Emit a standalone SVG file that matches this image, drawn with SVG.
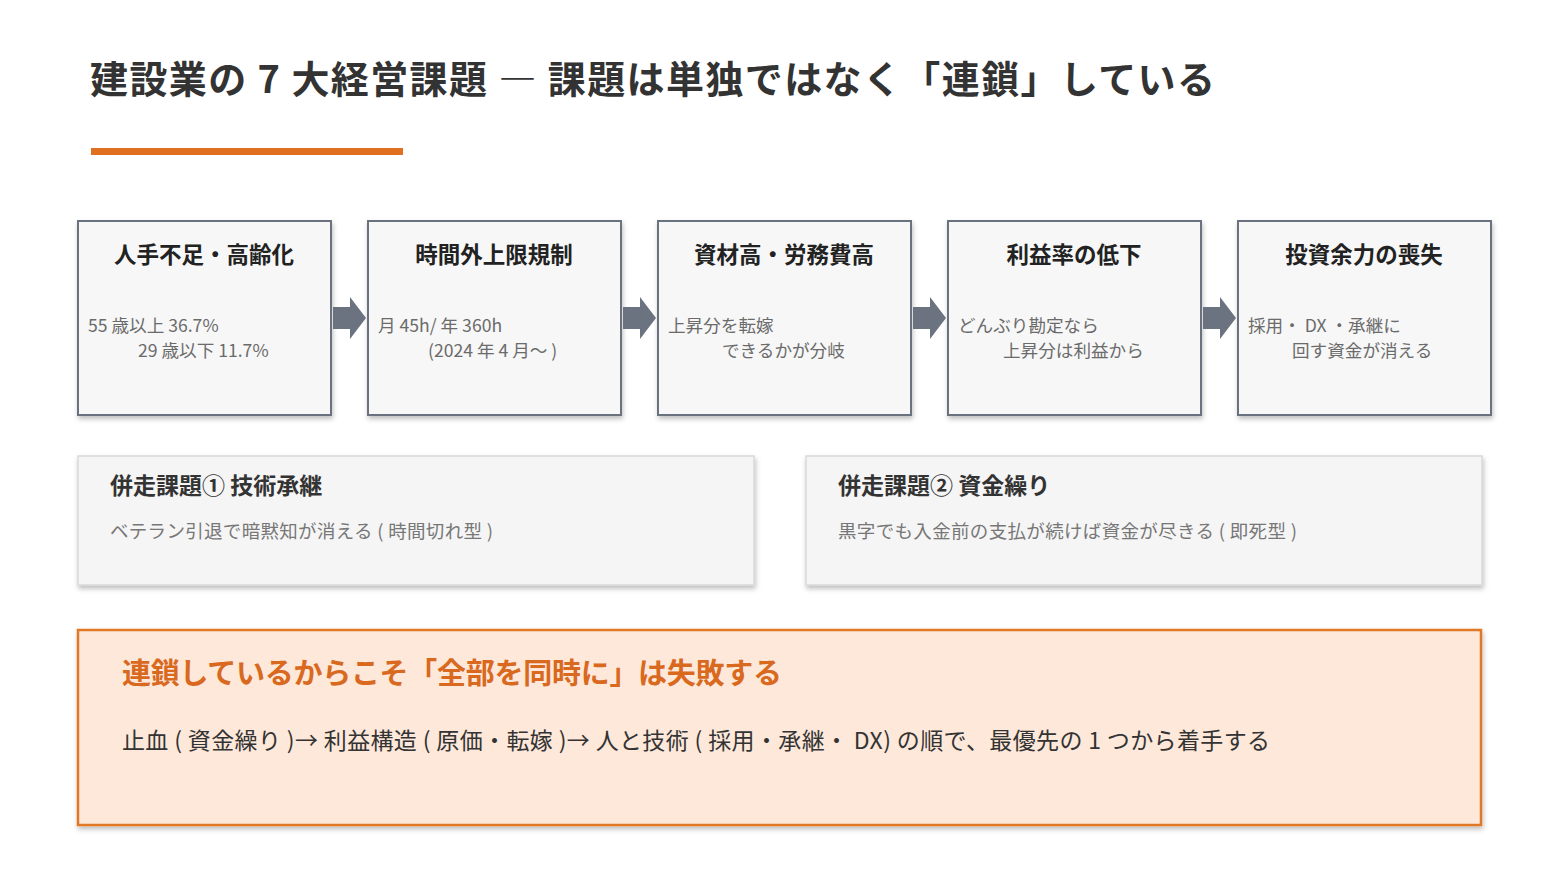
<svg xmlns="http://www.w3.org/2000/svg" width="1560" height="878" viewBox="0 0 1560 878">
<defs>
<filter id="sh" x="-5%" y="-5%" width="110%" height="115%"><feDropShadow dx="1" dy="3" stdDeviation="2.5" flood-color="#000" flood-opacity="0.25"/></filter>
<style>
text{font-family:"Noto Sans CJK JP","Noto Sans",sans-serif}
.box{fill:#f7f7f7;stroke:#6b7280;stroke-width:2;filter:url(#sh)}
.sbox{fill:#f5f5f5;stroke:#d8d8d8;stroke-width:1.5;filter:url(#sh)}
.h{font-size:22.5px;font-weight:700;fill:#222;text-anchor:middle}
.b{font-size:17.6px;fill:#6b6b6b}
.sh{font-size:23px;font-weight:700;fill:#333}
.sb{font-size:18.5px;fill:#777}
.arr{fill:#6b7280}
</style>
</defs>
<rect width="1560" height="878" fill="#fff"/>
<text x="90" y="93" font-size="38" font-weight="700" fill="#333" textLength="1125" lengthAdjust="spacing">建設業の 7 大経営課題 ― 課題は単独ではなく「連鎖」している</text>
<rect x="91" y="148" width="312" height="7" fill="#e07020"/>
<g id="n1"><rect class="box" x="78" y="221" width="253" height="194"/><text class="h" x="204" y="263">人手不足・高齢化</text><text class="b" x="88" y="332">55 歳以上 36.7%</text><text class="b" x="138" y="357">29 歳以下 11.7%</text></g>
<g id="n2"><rect class="box" x="368" y="221" width="253" height="194"/><text class="h" x="494" y="263">時間外上限規制</text><text class="b" x="378" y="332">月 45h/ 年 360h</text><text class="b" x="428" y="357">(2024 年 4 月～ )</text></g>
<g id="n3"><rect class="box" x="658" y="221" width="253" height="194"/><text class="h" x="784" y="263">資材高・労務費高</text><text class="b" x="668" y="332">上昇分を転嫁</text><text class="b" x="722" y="357">できるかが分岐</text></g>
<g id="n4"><rect class="box" x="948" y="221" width="253" height="194"/><text class="h" x="1074" y="263">利益率の低下</text><text class="b" x="958" y="332">どんぶり勘定なら</text><text class="b" x="1003" y="357">上昇分は利益から</text></g>
<g id="n5"><rect class="box" x="1238" y="221" width="253" height="194"/><text class="h" x="1364" y="263">投資余力の喪失</text><text class="b" x="1248" y="332">採用・ DX ・承継に</text><text class="b" x="1292" y="357">回す資金が消える</text></g>
<g id="connectors">
<path class="arr" d="M333 307H350V297L366 318L350 339V329H333Z"/>
<path class="arr" d="M623 307H640V297L656 318L640 339V329H623Z"/>
<path class="arr" d="M913 307H930V297L946 318L930 339V329H913Z"/>
<path class="arr" d="M1203 307H1220V297L1236 318L1220 339V329H1203Z"/>
</g>
<g id="s1"><rect class="sbox" x="78" y="456" width="676" height="129"/><text class="sh" x="110" y="494">併走課題① 技術承継</text><text class="sb" x="110" y="538" textLength="383" lengthAdjust="spacing">ベテラン引退で暗黙知が消える ( 時間切れ型 )</text></g>
<g id="s2"><rect class="sbox" x="806" y="456" width="676" height="129"/><text class="sh" x="838" y="494">併走課題② 資金繰り</text><text class="sb" x="838" y="538" textLength="459" lengthAdjust="spacing">黒字でも入金前の支払が続けば資金が尽きる ( 即死型 )</text></g>
<g id="key"><rect x="78" y="630" width="1403" height="195" fill="#fde8da" stroke="#e07828" stroke-width="2.5" filter="url(#sh)"/>
<text x="122" y="684" font-size="29" font-weight="700" fill="#d9691e" textLength="660" lengthAdjust="spacing">連鎖しているからこそ「全部を同時に」は失敗する</text>
<text x="122" y="749" font-size="23" fill="#333" textLength="1148" lengthAdjust="spacing">止血 ( 資金繰り )→ 利益構造 ( 原価・転嫁 )→ 人と技術 ( 採用・承継・ DX) の順で、最優先の 1 つから着手する</text></g>
</svg>
